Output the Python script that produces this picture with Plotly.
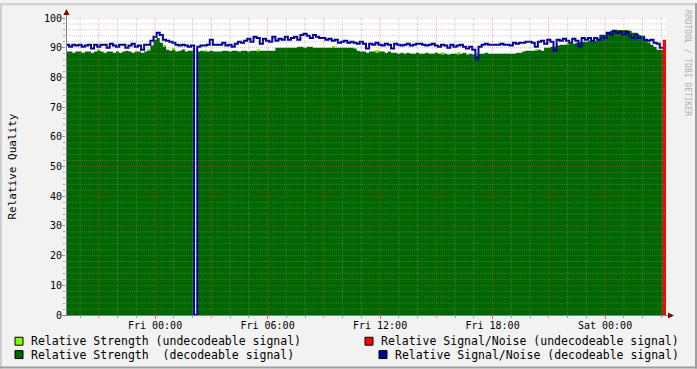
import plotly.graph_objects as go
from datetime import datetime, timedelta

# ---------------- data ----------------
start_time = datetime(2011, 2, 3, 19, 15)
bin_minutes = 10

# Relative Strength (decodeable signal), one value per 10-minute bin
strength_dec = [
    88.7, 88.7, 88.3, 88.7, 88.7, 88.3, 88.7, 88.7,
    88.3, 88.7, 89.0, 88.7, 88.3, 88.7, 88.7, 88.3,
    88.7, 88.3, 88.7, 89.0, 88.7, 88.3, 88.7, 88.7,
    88.3, 88.7, 89.0, 90.7, 92.7, 93.3, 91.7, 90.3,
    89.3, 89.0, 89.3, 88.7, 89.0, 89.3, 88.7, 89.0, 89.0,
    0.0,
    88.7, 89.0, 88.7, 88.7, 89.0, 88.7, 88.7,
    88.7, 89.0, 89.0, 88.7, 89.0, 89.0, 88.7, 89.0,
    89.0, 88.7, 89.0, 89.0, 88.7, 89.0, 89.0, 89.0,
    89.0, 89.0, 90.0, 90.0, 90.0, 90.0, 90.0, 90.0,
    90.0, 90.3, 90.3, 90.0, 90.3, 90.3, 90.0, 90.0,
    90.0, 90.0, 90.0, 90.0, 90.0, 90.0, 90.0, 90.0,
    90.0, 90.0, 90.0, 89.7, 89.0, 88.7, 88.7, 88.3,
    88.7, 88.7, 88.3, 88.7, 88.7, 88.3, 88.7, 88.3,
    88.3, 88.0, 88.3, 88.0, 88.3, 88.0, 88.0, 88.3,
    88.0, 88.0, 88.3, 88.0, 88.0, 88.3, 88.0, 87.7,
    88.0, 87.7, 88.0, 88.0, 87.7, 88.0, 88.3, 87.7,
    88.0, 87.7, 87.3, 88.0, 88.0, 88.3, 88.0, 88.0,
    88.0, 88.0, 88.0, 88.0, 88.0, 88.0, 88.0, 88.3,
    88.3, 88.7, 89.0, 89.0, 89.0, 89.0, 89.3, 89.0,
    90.0, 90.0, 90.3, 90.3, 90.7, 91.0, 91.0, 91.0,
    91.3, 91.3, 91.7, 92.0, 92.0, 92.0, 92.3, 92.3,
    92.3, 93.0, 93.7, 94.3, 95.0, 95.7, 95.7, 96.0,
    96.0, 96.0, 96.0, 95.7, 95.0, 95.0, 94.3, 93.3,
    92.7, 91.7, 91.0, 90.3, 89.3, 89.3,
]

# Relative Signal/Noise (decodeable signal)
snr_dec = [
    91.0, 90.3, 91.0, 90.7, 91.0, 90.3, 90.7, 91.0,
    89.7, 91.0, 90.3, 91.0, 91.0, 90.0, 91.3, 90.7,
    90.3, 91.0, 91.0, 90.0, 90.7, 91.3, 90.3, 90.7,
    89.3, 91.0, 91.0, 92.3, 93.7, 95.0, 94.3, 92.7,
    92.3, 92.0, 91.7, 91.0, 90.7, 91.0, 90.7, 90.3, 90.7,
    0.0,
    90.3, 90.7, 90.7, 91.0, 92.7, 91.0, 91.0,
    91.0, 91.7, 90.7, 91.0, 90.3, 91.3, 92.0, 91.7,
    92.3, 93.0, 92.0, 93.7, 93.3, 91.3, 93.0, 92.3,
    92.0, 93.7, 92.3, 93.0, 92.7, 93.7, 92.7, 93.3,
    93.7, 92.7, 94.3, 94.7, 94.0, 93.3, 94.3, 93.7,
    93.3, 93.3, 92.7, 93.0, 92.3, 92.7, 91.7, 92.0,
    92.3, 91.7, 92.0, 91.7, 91.3, 92.0, 91.3, 89.7,
    91.3, 91.0, 91.7, 91.0, 90.7, 91.3, 91.0, 89.7,
    91.3, 91.0, 90.7, 91.0, 91.3, 90.7, 91.0, 91.3,
    91.3, 91.0, 90.7, 91.0, 91.3, 90.7, 90.3, 91.0,
    90.7, 90.0, 91.0, 90.3, 90.7, 91.0, 90.3, 89.7,
    90.3, 89.3, 86.0, 90.3, 91.0, 91.3, 91.0, 91.0,
    91.0, 91.0, 91.3, 91.0, 91.0, 90.7, 91.7, 91.3,
    91.7, 91.7, 92.0, 92.0, 91.7, 90.3, 92.0, 92.3,
    91.3, 92.7, 92.0, 89.0, 92.7, 92.3, 93.0, 92.3,
    91.7, 93.0, 92.3, 90.3, 93.3, 92.7, 93.3, 92.3,
    93.3, 92.7, 94.0, 93.3, 95.0, 94.3, 95.7, 95.0,
    95.3, 94.3, 95.3, 94.0, 93.3, 94.3, 93.3, 93.7,
    92.7, 92.3, 92.7, 91.7, 91.3, 90.0,
]

# Relative Strength (undecodeable signal): only a few bins
strength_undec_bins = [10, 26, 31, 34, 37, 44, 61, 85, 99, 120, 125, 131, 150, 160, 186]
strength_undec_vals = [89.7, 89.7, 91.0, 90.0, 89.7, 89.3, 89.7, 90.7, 89.3, 88.7, 88.7, 88.3, 89.7, 91.7, 92.3]

# Relative Signal/Noise (undecodeable signal)
snr_undec_bins = [191]
snr_undec_vals = [92.7]

# axis ticks
x_tick_times = ["2011-02-03 21:00", "2011-02-04 00:00", "2011-02-04 03:00", "2011-02-04 06:00",
                "2011-02-04 09:00", "2011-02-04 12:00", "2011-02-04 15:00", "2011-02-04 18:00",
                "2011-02-04 21:00", "2011-02-05 00:00", "2011-02-05 03:00"]
x_tick_text = ["", "Fri 00:00", "", "Fri 06:00", "", "Fri 12:00", "", "Fri 18:00", "", "Sat 00:00", ""]
y_ticks = [0, 10, 20, 30, 40, 50, 60, 70, 80, 90, 100]

legend_labels = [
    "Relative Strength (undecodeable signal)",
    "Relative Signal/Noise (undecodeable signal)",
    "Relative Strength  (decodeable signal)",
    "Relative Signal/Noise (decodeable signal)",
]

# ---------------- colours / geometry ----------------
C_LGREEN = "#7FFF00"
C_GREEN = "#006600"
C_RED = "#FF0000"
C_BLUE = "#000099"
MGRID = "rgba(222,80,80,0.45)"
GRID = "rgba(143,143,143,0.45)"
W, H = 697, 369
L, R, T, B = 66, 666, 15, 315  # plot area pixels

def px(x):
    return (x - L) / (R - L)

def py(y):
    return (B - y) / (B - T)

step = timedelta(minutes=bin_minutes)
n_total = 192
times = [start_time + i * step for i in range(n_total + 1)]
end_time = times[-1]

fig = go.Figure()

# undecodeable strength as narrow bars (behind green)
fig.add_trace(go.Bar(
    x=[times[b] + step / 2 for b in strength_undec_bins],
    y=strength_undec_vals,
    width=[step.total_seconds() * 1000] * len(strength_undec_bins),
    marker=dict(color=C_LGREEN, line=dict(width=0)),
    showlegend=False, hoverinfo="skip"))

n = len(strength_dec)
fig.add_trace(go.Scatter(
    x=times[:n + 1], y=strength_dec + [strength_dec[-1]],
    mode="lines", line=dict(shape="hv", width=0, color=C_GREEN),
    fill="tozeroy", fillcolor=C_GREEN, showlegend=False, hoverinfo="skip"))

for b, v in zip(snr_undec_bins, snr_undec_vals):
    fig.add_trace(go.Scatter(
        x=[times[b], times[b + 1]], y=[v, v], mode="lines",
        line=dict(shape="hv", width=0, color=C_RED),
        fill="tozeroy", fillcolor=C_RED, showlegend=False, hoverinfo="skip"))

m = len(snr_dec)
fig.add_trace(go.Scatter(
    x=times[:m + 1], y=snr_dec + [snr_dec[-1]],
    mode="lines", line=dict(shape="hv", width=2, color=C_BLUE),
    showlegend=False, hoverinfo="skip"))

MONO = "DejaVu Sans Mono"
minor_hours = [start_time.replace(minute=0) + timedelta(hours=h) for h in range(1, 33)]

fig.update_layout(
    width=W, height=H,
    margin=dict(l=L, r=W - R, t=T, b=H - B, pad=0),
    paper_bgcolor="#F2F2F2", plot_bgcolor="#FFFFFF",
    bargap=0, barmode="overlay",
    font=dict(family=MONO, size=10, color="#000000"),
    xaxis=dict(
        type="date", range=[start_time, end_time],
        tickmode="array", tickvals=x_tick_times, ticktext=x_tick_text,
        showgrid=False,
        ticks="outside", ticklen=3, tickcolor="rgba(222,80,80,0.8)",
        ticklabelstandoff=-2,
        minor=dict(tickmode="array", tickvals=minor_hours, showgrid=False,
                   ticks="outside", ticklen=2, tickcolor="rgba(143,143,143,0.8)"),
        showline=False, zeroline=False,
        tickfont=dict(family=MONO, size=10),
    ),
    yaxis=dict(
        range=[0, 100], tickmode="array", tickvals=y_ticks,
        showgrid=False,
        ticks="outside", ticklen=3, tickcolor="rgba(143,143,143,0.9)",
        ticklabelstandoff=-2,
        minor=dict(dtick=2, showgrid=False, ticks="outside", ticklen=2,
                   tickcolor="rgba(143,143,143,0.8)"),
        showline=False, zeroline=False,
        tickfont=dict(family=MONO, size=10),
    ),
)

shapes = []
# grid drawn on top of the data, like rrdtool
for hr in minor_hours:
    major = (hr.hour % 3 == 0)
    shapes.append(dict(type="line", xref="x", yref="paper", x0=hr, x1=hr, y0=0, y1=1,
                       layer="above", line=dict(color=MGRID if major else GRID, width=1, dash="1px,1px")))
for v in range(2, 101, 2):
    major = (v % 10 == 0)
    shapes.append(dict(type="line", xref="paper", yref="y", x0=0, x1=1, y0=v, y1=v,
                       layer="above", line=dict(color=MGRID if major else GRID, width=1, dash="1px,1px")))

# 3D frame
shapes.append(dict(type="rect", xref="paper", yref="paper", x0=px(0), x1=px(W), y0=py(0), y1=py(2),
                   fillcolor="#CFCFCF", line=dict(width=0), layer="below"))
shapes.append(dict(type="rect", xref="paper", yref="paper", x0=px(0), x1=px(2), y0=py(0), y1=py(H),
                   fillcolor="#CFCFCF", line=dict(width=0), layer="below"))
shapes.append(dict(type="rect", xref="paper", yref="paper", x0=px(0), x1=px(W), y0=py(H - 2), y1=py(H),
                   fillcolor="#9E9E9E", line=dict(width=0), layer="below"))
shapes.append(dict(type="rect", xref="paper", yref="paper", x0=px(W - 2), x1=px(W), y0=py(0), y1=py(H),
                   fillcolor="#9E9E9E", line=dict(width=0), layer="below"))
# axis lines
shapes.append(dict(type="line", xref="paper", yref="paper", x0=px(66.5), x1=px(66.5), y0=py(315), y1=py(11),
                   line=dict(color="#808080", width=1)))
shapes.append(dict(type="line", xref="paper", yref="paper", x0=px(63), x1=px(669), y0=py(315.5), y1=py(315.5),
                   line=dict(color="#808080", width=1)))
# arrows
shapes.append(dict(type="path", xref="paper", yref="paper",
                   path=f"M {px(63.5)} {py(12)} L {px(69.5)} {py(12)} L {px(66.5)} {py(6)} Z",
                   fillcolor="#7F0000", line=dict(width=0)))
shapes.append(dict(type="path", xref="paper", yref="paper",
                   path=f"M {px(668)} {py(312.5)} L {px(668)} {py(318.5)} L {px(674)} {py(315.5)} Z",
                   fillcolor="#7F0000", line=dict(width=0)))

# legend boxes
legend_boxes = [(15, 341.5, C_LGREEN), (365, 341.5, C_RED), (15, 355, C_GREEN), (379, 355, C_BLUE)]
legend_text_x = [29, 379, 29, 393]
annotations = []
for (bx, by, col), lbl, tx in zip(legend_boxes, legend_labels, legend_text_x):
    shapes.append(dict(type="rect", xref="paper", yref="paper",
                       x0=px(bx), x1=px(bx + 8), y0=py(by + 4), y1=py(by - 4),
                       fillcolor=col, line=dict(color="#000000", width=1)))
    annotations.append(dict(xref="paper", yref="paper", x=px(tx), y=py(by), text=lbl,
                            showarrow=False, xanchor="left", yanchor="middle",
                            font=dict(family=MONO, size=11.5, color="#000000")))

annotations.append(dict(xref="paper", yref="paper", x=px(12), y=py(165), text="Relative Quality",
                        showarrow=False, textangle=-90, xanchor="center", yanchor="middle",
                        font=dict(family=MONO, size=11, color="#000000")))
annotations.append(dict(xref="paper", yref="paper", x=px(688), y=py(5), text="RRDTOOL / TOBI OETIKER",
                        showarrow=False, textangle=90, xanchor="center", yanchor="top",
                        font=dict(family=MONO, size=8, color="#B0B0B0")))

fig.update_layout(shapes=shapes, annotations=annotations)
fig.write_html("out.html")
